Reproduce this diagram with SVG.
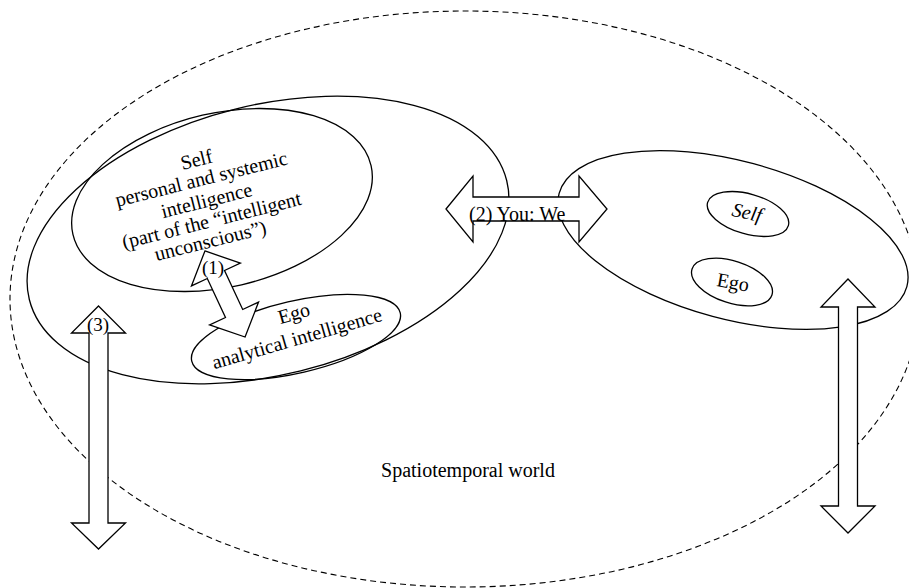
<svg xmlns="http://www.w3.org/2000/svg" width="909" height="588" viewBox="0 0 909 588">
<style>
.e{fill:none;stroke:#000;stroke-width:1.3}
.d{fill:none;stroke:#000;stroke-width:1.1;stroke-dasharray:6 4}
.a{fill:#fff;stroke:#000;stroke-width:1.3;stroke-linejoin:miter}
.t{font-family:"Liberation Serif","Times New Roman",serif;font-size:20px;fill:#000}
.c{text-anchor:middle}
.i{font-style:italic}
</style>
<rect width="909" height="588" fill="#fff"/>
<g id="world">
<ellipse class="d" cx="465" cy="299" rx="455" ry="288"/>
<text class="t c" x="468" y="477">Spatiotemporal world</text>
</g>
<g id="person-left">
<ellipse class="e" cx="268" cy="240" rx="246" ry="135" transform="rotate(-14 268 240)"/>
</g>
<g id="self-left">
<ellipse class="e" cx="222" cy="200" rx="153" ry="87" transform="rotate(-13 222 200)"/>
<g transform="translate(207,202) rotate(-14)">
<text class="t c" x="0" y="-37">Self</text>
<text class="t c" x="0" y="-17">personal and systemic</text>
<text class="t c" x="0" y="5">intelligence</text>
<text class="t c" x="0" y="25.5">(part of the “intelligent</text>
<text class="t c" x="-6" y="45">unconscious”)</text>
</g>
</g>
<g id="ego-left">
<ellipse class="e" cx="296" cy="337" rx="107" ry="36" transform="rotate(-13 296 337)"/>
<g transform="translate(296,328) rotate(-16)">
<text class="t c" x="2" y="-8">Ego</text>
<text class="t c" x="-2" y="17">analytical intelligence</text>
</g>
</g>
<g id="person-right">
<ellipse class="e" cx="733" cy="240" rx="180" ry="79" transform="rotate(15 733 240)"/>
</g>
<g id="self-right">
<ellipse class="e" cx="748" cy="214" rx="42" ry="20" transform="rotate(16 748 214)"/>
<text class="t c i" transform="translate(747,213) rotate(12)" x="0" y="6">Self</text>
</g>
<g id="ego-right">
<ellipse class="e" cx="732" cy="282" rx="42" ry="21" transform="rotate(18 732 282)"/>
<text class="t c" transform="translate(733,283) rotate(10)" x="0" y="6">Ego</text>
</g>
<g id="connectors">
<path class="a" transform="translate(225,294) rotate(-25)" d="M0,-47.5 L27,-21.5 L9.5,-21.5 L9.5,21.5 L27,21.5 L0,47.5 L-27,21.5 L-9.5,21.5 L-9.5,-21.5 L-27,-21.5 Z"/>
<text class="t c" x="213" y="274" style="font-size:19px">(1)</text>
<path class="a" d="M446,209 L473,176 L473,197 L579,197 L579,176 L607,209 L579,242 L579,221 L473,221 L473,242 Z"/>
<text class="t" x="469" y="221">(2) You: We</text>
<path class="a" d="M98.5,306 L125.5,333 L108,333 L108,523 L125.5,523 L98.5,549 L71.5,523 L89,523 L89,333 L71.5,333 Z"/>
<text class="t c" x="98" y="331" style="font-size:19px">(3)</text>
<path class="a" d="M848,279 L875,307 L857.5,307 L857.5,506 L875,506 L848,533 L821,506 L838.5,506 L838.5,307 L821,307 Z"/>
</g>
</svg>
